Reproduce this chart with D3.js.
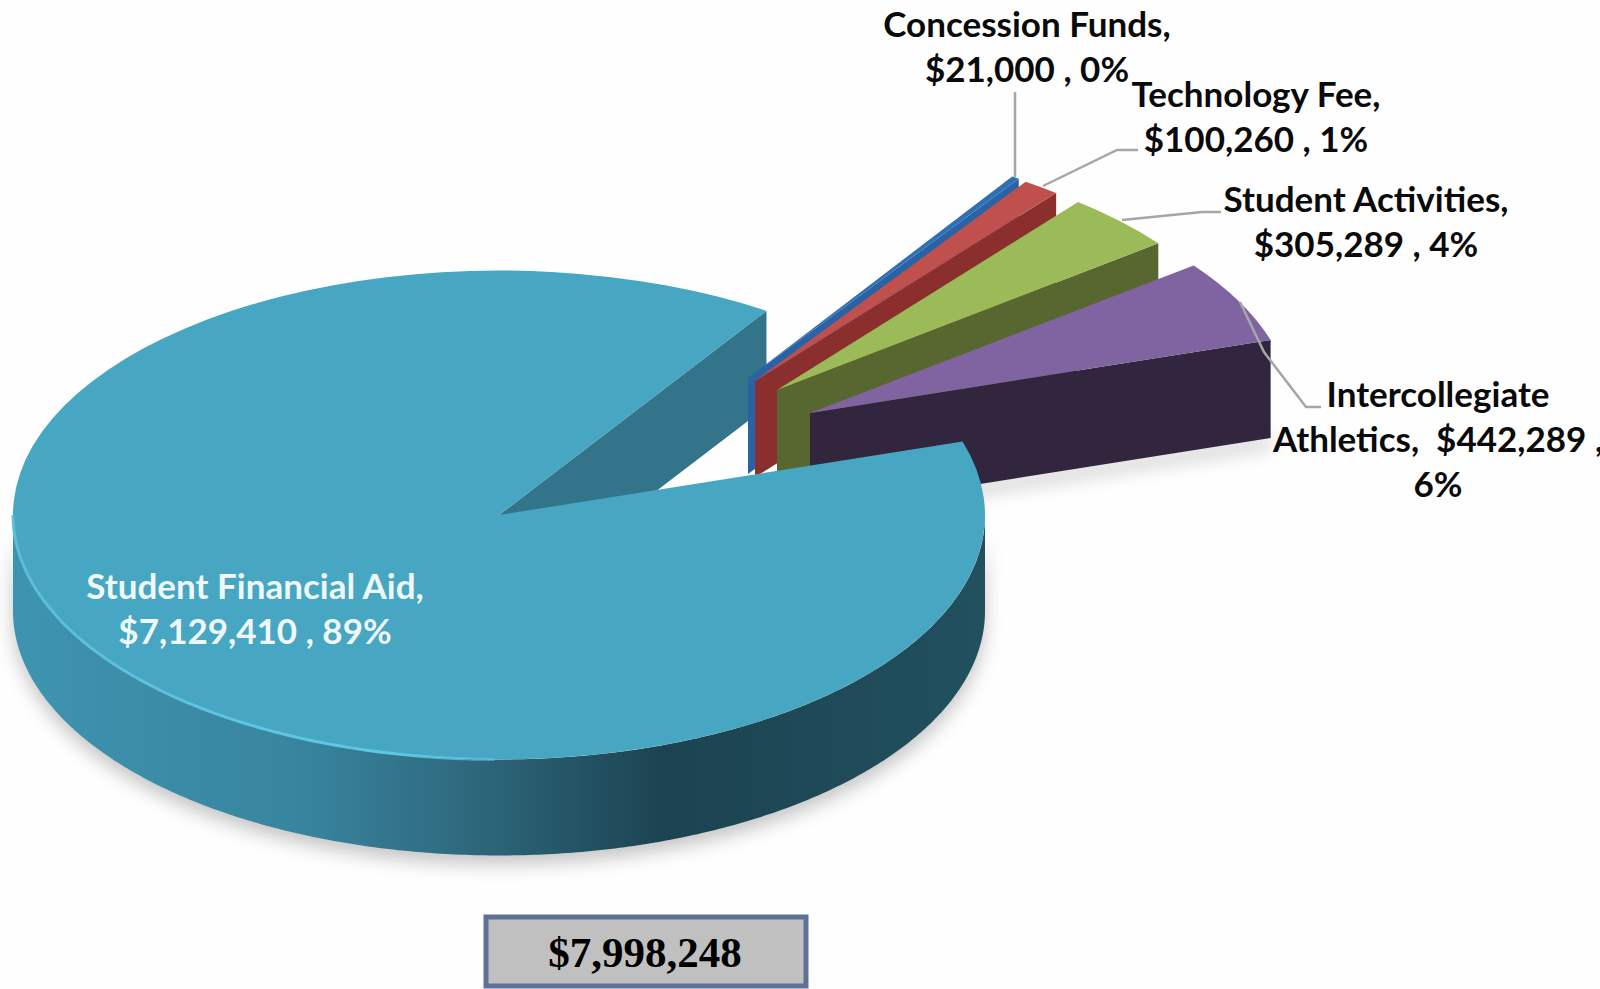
<!DOCTYPE html>
<html>
<head>
<meta charset="utf-8">
<style>html,body{margin:0;padding:0;background:#fff}svg{display:block}</style>
<script src="https://cdn.jsdelivr.net/npm/d3@7/dist/d3.min.js"></script>
</head>
<body>
<svg id="chart" width="1600" height="989"></svg>
<script>
// ---- data ----
const categories = ["Student Financial Aid", "Concession Funds", "Technology Fee", "Student Activities", "Intercollegiate Athletics"];
const values = [7129410, 21000, 100260, 305289, 442289];
const percents = ["89%", "0%", "1%", "4%", "6%"];
const totalLabel = "$7,998,248";
const labelLines = [
  ["Student Financial Aid,", "$7,129,410 , 89%"],
  ["Concession Funds,", "$21,000 , 0%"],
  ["Technology Fee,", "$100,260 , 1%"],
  ["Student Activities,", "$305,289 , 4%"],
  ["Intercollegiate", "Athletics,  $442,289 ,", "6%"]
];

// ---- styles and layout ----
const topColors = ["#47a6c1", "#2f70b4", "#c0504d", "#9bbb59", "#8064a2"];
const wallColors = ["#33748a", "#2a62a6", "#8a2f2d", "#57672f", "#32263f"];
const explodeX = [0, 249, 256, 278, 311];
const explodeY = [0, -138, -135, -126, -103];
const radiusX = [486, 480, 480, 480, 483];
const depths = [96, 96, 96, 96, 98];
const centre = {x: 499, y: 515};
const tilt = 0.503;
const startDeg = 72.5;
const labelX = [255, 1027, 1256, 1366, 1438];
const labelY = [599, 37, 107, 212, 407];
const labelSize = 35;
const lineGap = 45;
const leaders = [
  null,
  [[1015, 92], [1015, 177]],
  [[1138, 150], [1117, 150], [1043, 186]],
  [[1221, 212], [1202, 212], [1122, 220]],
  [[1321, 407], [1306, 407], [1264, 352], [1240, 302]]
];

const svg = d3.select("#chart");
svg.append("rect").attr("width", 1600).attr("height", 989).attr("fill", "#fefefe");

const defs = svg.append("defs");
const blur = defs.append("filter").attr("id", "soft")
  .attr("x", "-10%").attr("y", "-10%").attr("width", "120%").attr("height", "125%");
blur.append("feGaussianBlur").attr("stdDeviation", 9);

const wallGrad = defs.append("linearGradient").attr("id", "wallGrad")
  .attr("gradientUnits", "userSpaceOnUse")
  .attr("x1", 12).attr("x2", 985).attr("y1", 0).attr("y2", 0);
[[0, "#3e94b0"], [0.3, "#38849e"], [0.45, "#2f6c81"], [0.67, "#1c4351"], [1, "#21505f"]]
  .forEach(([o, c]) => wallGrad.append("stop").attr("offset", o).attr("stop-color", c));

const rimGrad = defs.append("linearGradient").attr("id", "rimGrad")
  .attr("gradientUnits", "userSpaceOnUse")
  .attr("x1", 12).attr("x2", 640).attr("y1", 0).attr("y2", 0);
[[0, "#5cc0dc", 0.9], [0.6, "#5fc8e6", 1], [1, "#5fc8e6", 0]]
  .forEach(([o, c, a]) => rimGrad.append("stop").attr("offset", o).attr("stop-color", c).attr("stop-opacity", a));

// ---- geometry from the library ----
const rad = d => d * Math.PI / 180;
const pie = d3.pie().sort(null).value(d => d)
  .startAngle(rad(startDeg)).endAngle(rad(startDeg) + 2 * Math.PI);
const slices = pie(values).map((s, i) => ({
  ...s, i,
  cx: centre.x + explodeX[i],
  cy: centre.y + explodeY[i] + (i ? 1 : 0),
  rx: radiusX[i],
  depth: depths[i]
}));
const arc = d3.arc().innerRadius(0);
const px = (s, a, r) => s.cx + r * Math.sin(a);
const py = (s, a, r) => s.cy - r * Math.cos(a) * tilt;
const line = d3.line();

function frontArc(s) {
  const a0 = Math.max(s.startAngle, rad(90)), a1 = Math.min(s.endAngle, rad(270));
  return a1 > a0 ? d3.range(a0, a1, 0.01).concat(a1) : [];
}
function topFace(sel, s) {
  sel.append("path")
    .attr("transform", `translate(${s.cx},${s.cy}) scale(1,${tilt})`)
    .attr("d", arc.outerRadius(s.rx)(s))
    .attr("fill", topColors[s.i]);
}
function endWall(sel, s) {
  const x = px(s, s.endAngle, s.rx), y = py(s, s.endAngle, s.rx);
  sel.append("path")
    .attr("d", line([[s.cx, s.cy], [x, y], [x, y + s.depth], [s.cx, s.cy + s.depth]]) + "Z")
    .attr("fill", wallColors[s.i]);
}
function outerWall(sel, s, fill) {
  const pts = frontArc(s);
  if (!pts.length) return;
  sel.append("path")
    .attr("d", d3.area()
      .x(a => px(s, a, s.rx))
      .y0(a => py(s, a, s.rx))
      .y1(a => py(s, a, s.rx) + s.depth)(pts))
    .attr("fill", fill);
}

// ---- soft shadows ----
const shadow = svg.append("g").attr("filter", "url(#soft)").attr("opacity", 0.42)
  .attr("transform", "translate(0,9)");
const main = slices[0], ath = slices[4];
shadow.append("path")
  .attr("d", line([[ath.cx, ath.cy + ath.depth],
    [px(ath, ath.endAngle, ath.rx), py(ath, ath.endAngle, ath.rx) + ath.depth],
    [px(ath, ath.endAngle, ath.rx), py(ath, ath.endAngle, ath.rx) + ath.depth - 10],
    [ath.cx, ath.cy + ath.depth - 10]]) + "Z")
  .attr("fill", "#777");
outerWall(shadow, main, "#777");

// ---- main slice: its inner wall sits behind the exploded slices ----
endWall(svg.append("g"), main);

// ---- exploded slices, back to front ----
const gSlices = svg.append("g");
slices.slice(1).forEach(s => {
  endWall(gSlices, s);
  topFace(gSlices, s);
});

// ---- main slice: rim and top face in front ----
const gMain = svg.append("g");
outerWall(gMain, main, "url(#wallGrad)");
topFace(gMain, main);
gMain.append("path")
  .attr("d", d3.line().x(a => px(main, a, main.rx)).y(a => py(main, a, main.rx))(
    frontArc(main).filter(a => a > rad(180))))
  .attr("fill", "none").attr("stroke", "url(#rimGrad)").attr("stroke-width", 3);

// ---- leader lines ----
svg.append("g").selectAll("path").data(leaders.filter(Boolean)).join("path")
  .attr("d", d => line(d))
  .attr("fill", "none").attr("stroke", "#a6a6a6").attr("stroke-width", 2.5);

// ---- labels ----
const gLabels = svg.append("g")
  .attr("font-family", "Lato, 'Open Sans', sans-serif")
  .attr("font-weight", 700)
  .attr("font-size", labelSize)
  .attr("text-anchor", "middle");
labelLines.forEach((lines, i) => {
  lines.forEach((t, j) => {
    gLabels.append("text")
      .attr("x", labelX[i])
      .attr("y", labelY[i] + j * lineGap)
      .attr("xml:space", "preserve")
      .style("white-space", "pre")
      .attr("fill", i === 0 ? "#eef8fb" : "#0a0a0a")
      .text(t);
  });
});

// ---- total box ----
svg.append("rect")
  .attr("x", 486).attr("y", 917).attr("width", 320).attr("height", 69)
  .attr("fill", "#c0c0c0").attr("stroke", "#5f7196").attr("stroke-width", 5);
svg.append("text")
  .attr("x", 645).attr("y", 967)
  .attr("text-anchor", "middle")
  .attr("font-family", "'Liberation Serif', serif")
  .attr("font-weight", 700)
  .attr("font-size", 43)
  .attr("fill", "#000")
  .text(totalLabel);
</script>
</body>
</html>
